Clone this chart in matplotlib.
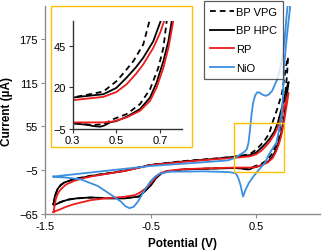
import matplotlib
matplotlib.use("Agg")
import matplotlib.pyplot as plt
from matplotlib.patches import Rectangle

plt.rcParams['font.family'] = ['Liberation Sans', 'DejaVu Sans']

# cyclic voltammograms (potential V, current uA)
vpg_v = [-1.419, -1.405, -1.381, -1.35, -1.318, -1.2235, -1.065, -0.9, -0.75, -0.5, -0.2, 0.1, 0.301,
         0.441, 0.502, 0.54, 0.578, 0.623, 0.651, 0.70, 0.743, 0.784, 0.80,
         0.79, 0.77, 0.75, 0.73, 0.715, 0.692, 0.654, 0.608, 0.547, 0.487, 0.441, 0.395, 0.301,
         0.0, -0.2, -0.35, -0.40, -0.45, -0.50, -0.55, -0.61, -0.75, -0.907, -1.065, -1.2, -1.29,
         -1.35, -1.41, -1.419]
vpg_i = [-52, -41, -31.5, -25.5, -22, -17, -12.5, -9, -5.5, 2.5, 7.5, 11, 13.7,
         17.3, 23.7, 29.5, 35.7, 45.7, 59.7, 80, 101, 140, 150,
         125, 95, 72, 59.7, 43.7, 31.7, 18.7, 9.7, 3.7, 0.7, -2.3, -2.9, -1.7,
         -2.8, -3.8, -6.5, -9, -15.5, -25.5, -33, -41, -43.2, -43, -42.5, -43.5, -45.3,
         -48.5, -52.5, -52]

hpc_v = [-1.419, -1.405, -1.381, -1.35, -1.318, -1.2235, -1.065, -0.9, -0.75, -0.5, -0.2, 0.1, 0.301,
         0.441, 0.50, 0.547, 0.59, 0.623, 0.669, 0.702, 0.74, 0.78, 0.805,
         0.78, 0.765, 0.753, 0.738, 0.715, 0.684, 0.654, 0.608, 0.547, 0.50, 0.471, 0.445, 0.426,
         0.395, 0.365, 0.301, 0.0, -0.2, -0.35, -0.40, -0.45, -0.50, -0.55, -0.608, -0.75, -0.907,
         -1.065, -1.2, -1.286, -1.35, -1.41, -1.419]
hpc_i = [-51.4, -40, -30.9, -25, -21.8, -17.3, -12.8, -9.3, -6, 2.3, 7, 10.5, 13.7,
         15.7, 19.5, 25.7, 32, 37.7, 47.7, 59.7, 80, 104, 116,
         88, 70, 59.7, 47.7, 35.7, 22.7, 13.7, 6.7, 2.1, -0.5, -1.3, -3.2, -3.9,
         -3.5, -2.7, -1.9, -3, -4, -7, -9.5, -16, -26, -33, -40.9, -43.6, -43.6,
         -42.2, -43.5, -45.5, -48.5, -52.7, -51.4]

rp_v = [-1.419, -1.41, -1.397, -1.375, -1.349, -1.30, -1.2235, -1.15, -1.065, -0.9, -0.75, -0.5, -0.2,
        0.1, 0.301, 0.441, 0.50, 0.547, 0.59, 0.623, 0.669, 0.70, 0.718, 0.76, 0.805,
        0.78, 0.76, 0.738, 0.715, 0.684, 0.654, 0.608, 0.547, 0.487, 0.441, 0.301,
        0.0, -0.2, -0.35, -0.40, -0.45, -0.50, -0.55, -0.60, -0.65, -0.75, -0.907, -1.065,
        -1.2235, -1.30, -1.349, -1.40, -1.419]
rp_i = [-62.3, -55, -44.5, -36, -30.9, -24.5, -19.6, -16.3, -13.6, -9.5, -6, 2.0, 6.5,
        10, 12.1, 14.1, 17, 21.7, 28, 33.7, 43.7, 52.7, 59.7, 80, 101,
        78, 59.7, 43.7, 31.7, 19.7, 11.7, 5.7, 1.7, -0.7, -1.3, -1.3,
        -2.5, -3.6, -6, -8.5, -14, -23, -30, -35.5, -39, -41.4, -43.2, -45.9,
        -51.4, -55, -58.2, -61, -62.3]

nio_v = [-1.419, -1.0, -0.5, 0.0, 0.23, 0.30, 0.35, 0.39, 0.41, 0.425, 0.44, 0.455, 0.47, 0.49,
         0.51, 0.53, 0.56, 0.59, 0.62, 0.65, 0.68, 0.70, 0.72, 0.744, 0.76, 0.772, 0.785, 0.795,
         0.81, 0.819, 0.79, 0.76, 0.75, 0.735, 0.715, 0.69, 0.62, 0.58, 0.526, 0.48, 0.431, 0.40,
         0.374, 0.352, 0.33, 0.305, 0.24, 0.0, -0.33, -0.42, -0.46, -0.50, -0.56, -0.62, -0.66,
         -0.70, -0.74, -0.78, -0.88, -1.0, -1.16, -1.30, -1.40, -1.419]
nio_i = [-13.6, -7, 0.9, 6, 8.5, 12, 17, 20.5, 24, 32, 50, 72, 88, 98,
         102, 101.5, 98.5, 97, 99, 104, 114, 120, 132, 148, 165, 182, 205, 219,
         240, 218, 180, 135, 92, 65, 50, 33, 17, 5, -4, -12, -22, -31,
         -41, -26, -16, -9, -7.5, -6.5, -7, -10, -14, -20, -33, -48, -55,
         -57, -54, -48, -38, -26.5, -17.5, -15, -14.2, -13.6]

series = [
    ("BP VPG", vpg_v, vpg_i, "black", (0, (3.2, 2.2))),
    ("BP HPC", hpc_v, hpc_i, "black", "-"),
    ("RP", rp_v, rp_i, "#ee1c1c", "-"),
    ("NiO", nio_v, nio_i, "#3b8fe0", "-"),
]

x_ticks = [-1.5, -0.5, 0.5]
y_ticks = [-65, -5, 55, 115, 175]
inset_x_ticks = [0.3, 0.5, 0.7]
inset_y_ticks = [-5, 20, 45]

gold = "#FFC000"
spine_gray = "#8c8c8c"

fig = plt.figure(figsize=(3.23, 2.53), dpi=100)
ax = fig.add_axes([0.139, 0.150, 0.851, 0.822])

for name, v, i, c, ls in series:
    ax.plot(v, i, color=c, linestyle=ls, linewidth=1.3, label=name)

ax.set_xlim(-1.5, 1.1)
ax.set_ylim(-65, 220)
ax.set_xticks(x_ticks)
ax.set_yticks(y_ticks)
ax.set_xticklabels([str(t) for t in x_ticks])
for s in ["top", "right"]:
    ax.spines[s].set_visible(False)
for s in ["left", "bottom"]:
    ax.spines[s].set_color(spine_gray)
    ax.spines[s].set_linewidth(1.0)
ax.tick_params(labelsize=8, length=3, color=spine_gray, pad=2)

ax.set_xlabel("Potential (V)", fontsize=8.5, fontweight="bold")
ax.set_ylabel("Current (\u00b5A)", fontsize=8.5, fontweight="bold")
ax.xaxis.set_label_coords(0.5, -0.11)
ax.yaxis.set_label_coords(-0.115, 0.5)

# zoom region marker
ax.add_patch(Rectangle((0.29, -8), 0.475, 68, fill=False, edgecolor=gold, linewidth=1.0, zorder=5))

leg = ax.legend(loc="upper left", bbox_to_anchor=(204 / 323, 1 - 2 / 253), bbox_transform=fig.transFigure,
                fontsize=8, frameon=True, fancybox=False, edgecolor="#333333", borderaxespad=0,
                handlelength=2.2, handletextpad=0.2, labelspacing=0.8, borderpad=0.5)
leg.get_frame().set_linewidth(0.9)

# inset frame
fig.patches.append(Rectangle((0.158, 0.415), 0.4365, 0.557, transform=fig.transFigure,
                             facecolor="white", edgecolor=gold, linewidth=1.0, zorder=2))

ins = fig.add_axes([0.2245, 0.488, 0.339, 0.426])
ins.set_zorder(3)
for name, v, i, c, ls in series[:3]:
    ins.plot(v, i, color=c, linestyle=ls, linewidth=1.3)
ins.set_xlim(0.3, 0.8)
ins.set_ylim(-5, 60)
ins.set_xticks(inset_x_ticks)
ins.set_yticks(inset_y_ticks)
ins.set_xticklabels([str(t) for t in inset_x_ticks])
ins.patch.set_alpha(0)
for s in ["top", "right"]:
    ins.spines[s].set_visible(False)
for s in ["left", "bottom"]:
    ins.spines[s].set_color("#333333")
    ins.spines[s].set_linewidth(1.0)
ins.tick_params(labelsize=8, length=3, color="#333333", pad=2)

fig.savefig("out.png", dpi=100)
